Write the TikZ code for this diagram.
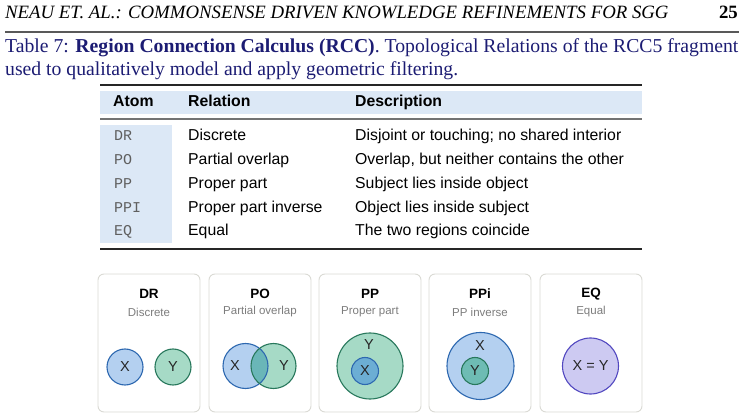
\documentclass[tikz,border=0pt]{standalone}
\usepackage{fontspec}
\setmainfont{Liberation Serif}
\setsansfont{Liberation Sans}
\setmonofont{Liberation Mono}
\definecolor{capblue}{RGB}{28,28,115}
\definecolor{hdrfill}{RGB}{220,232,246}
\definecolor{atomgray}{RGB}{95,95,95}
\definecolor{boxline}{RGB}{218,218,212}
\definecolor{subgray}{RGB}{125,125,125}
\definecolor{bfill}{RGB}{180,208,240}
\definecolor{bline}{RGB}{45,104,176}
\definecolor{gfill}{RGB}{166,218,198}
\definecolor{gline}{RGB}{40,120,92}
\definecolor{tfill}{RGB}{106,182,184}
\definecolor{ixfill}{RGB}{108,174,212}
\definecolor{iyfill}{RGB}{110,188,180}
\definecolor{efill}{RGB}{205,202,242}
\definecolor{eline}{RGB}{82,72,192}
\tikzset{
  hdr/.style={font=\fontsize{18.8}{20}\selectfont\itshape, inner sep=0pt, anchor=base west},
  captxt/.style={font=\fontsize{19.7}{22}\selectfont, text=capblue, inner sep=0pt, anchor=base west},
  thd/.style={font=\sffamily\bfseries\fontsize{15.8}{18}\selectfont, inner sep=0pt, anchor=base west},
  tcell/.style={font=\sffamily\fontsize{15.8}{18}\selectfont, inner sep=0pt, anchor=base west},
  tatom/.style={font=\ttfamily\fontsize{15}{18}\selectfont, text=atomgray, inner sep=0pt, anchor=base west},
  card/.style={draw=boxline, line width=0.9pt, fill=white, rounded corners=6pt},
  cardtitle/.style={font=\sffamily\bfseries\fontsize{13.5}{16}\selectfont, inner sep=0pt},
  cardsub/.style={font=\sffamily\fontsize{11.5}{14}\selectfont, text=subgray, inner sep=0pt},
  clabel/.style={font=\sffamily\fontsize{14.5}{16}\selectfont, text=black!85, inner sep=0pt},
  bcirc/.style={fill=bfill, draw=bline, line width=1.1pt},
  gcirc/.style={fill=gfill, draw=gline, line width=1.1pt},
}
\begin{document}
\begin{tikzpicture}[x=1pt,y=-1pt]
\useasboundingbox (0,0) rectangle (744,419);
% running header
\node[hdr] (head) at (5,19) {NEAU ET. AL.: COMMONSENSE DRIVEN KNOWLEDGE REFINEMENTS FOR SGG};
\node[hdr, font=\fontsize{18.8}{20}\selectfont\bfseries, anchor=base east] (page) at (738,19) {25};
\draw[line width=1.3pt, black!65] (5,32) -- (739,32);
% caption
\node[captxt] (cap1) at (5,53) {Table 7: \textbf{Region Connection Calculus (RCC)}. Topological Relations of the RCC5 fragment};
\node[captxt] (cap2) at (5,76) {used to qualitatively model and apply geometric filtering.};
% table
\fill[hdrfill] (100,91) rectangle (642,114);
\fill[hdrfill] (100,125) rectangle (172,243);
\draw[line width=1.4pt, black!85] (100,85) -- (642,85);
\draw[line width=1.8pt, black!55] (100,119) -- (642,119);
\draw[line width=1.4pt, black!85] (100,249) -- (642,249);
\node[thd] (hA) at (113,107) {Atom};
\node[thd] (hR) at (188,107) {Relation};
\node[thd] (hD) at (355,107) {Description};
\foreach \y/\a/\r/\d [count=\i] in {141/DR/Discrete/Disjoint or touching; no shared interior,
  165/PO/Partial overlap/{Overlap, but neither contains the other},
  189/PP/Proper part/Subject lies inside object,
  213/PPI/Proper part inverse/Object lies inside subject,
  236/EQ/Equal/The two regions coincide}{
  \node[tatom] (a\i) at (114,\y) {\a};
  \node[tcell] (r\i) at (188,\y) {\r};
  \node[tcell] (d\i) at (355,\y) {\d};
}
% cards
\foreach \x/\t/\s [count=\i] in {98/DR/Discrete, 209/PO/Partial overlap, 319/PP/Proper part, 429/PPi/PP inverse, 540/EQ/Equal}{
  \draw[card] (\x,274) rectangle ++(102,138);
  \node[cardtitle] (ct\i) at (\x+51,294) {\t};
  \node[cardsub] (cs\i) at (\x+51,312) {\s};
}
% DR
\draw[bcirc] (125,367) circle[radius=18];
\draw[gcirc] (173,367) circle[radius=18];
\node[clabel] (drx) at (125,367) {X};
\node[clabel] (dry) at (173,367) {Y};
% PO
\fill[bfill] (245.5,366) circle[radius=22.5];
\fill[gfill] (273.5,366) circle[radius=22.5];
\begin{scope}
  \clip (245.5,366) circle[radius=22.5];
  \fill[tfill] (273.5,366) circle[radius=22.5];
\end{scope}
\draw[bline, line width=1.1pt] (245.5,366) circle[radius=22.5];
\draw[gline, line width=1.1pt] (273.5,366) circle[radius=22.5];
\node[clabel] (pox) at (235,366) {X};
\node[clabel] (poy) at (284,366) {Y};
% PP
\draw[gcirc] (370,366) circle[radius=33];
\draw[fill=ixfill, draw=bline, line width=1.1pt] (365,371) circle[radius=13.5];
\node[clabel] (ppy) at (369,345) {Y};
\node[clabel] (ppx) at (365,371) {X};
% PPi
\draw[bcirc] (480.5,366) circle[radius=33.5];
\draw[fill=iyfill, draw=gline, line width=1.1pt] (475,371) circle[radius=13.5];
\node[clabel] (pix) at (480,346) {X};
\node[clabel] (piy) at (475,371) {Y};
% EQ
\draw[fill=efill, draw=eline, line width=1.1pt] (590.5,366) circle[radius=28];
\node[clabel] (eqxy) at (590.5,366) {X = Y};
\end{tikzpicture}
\end{document}
